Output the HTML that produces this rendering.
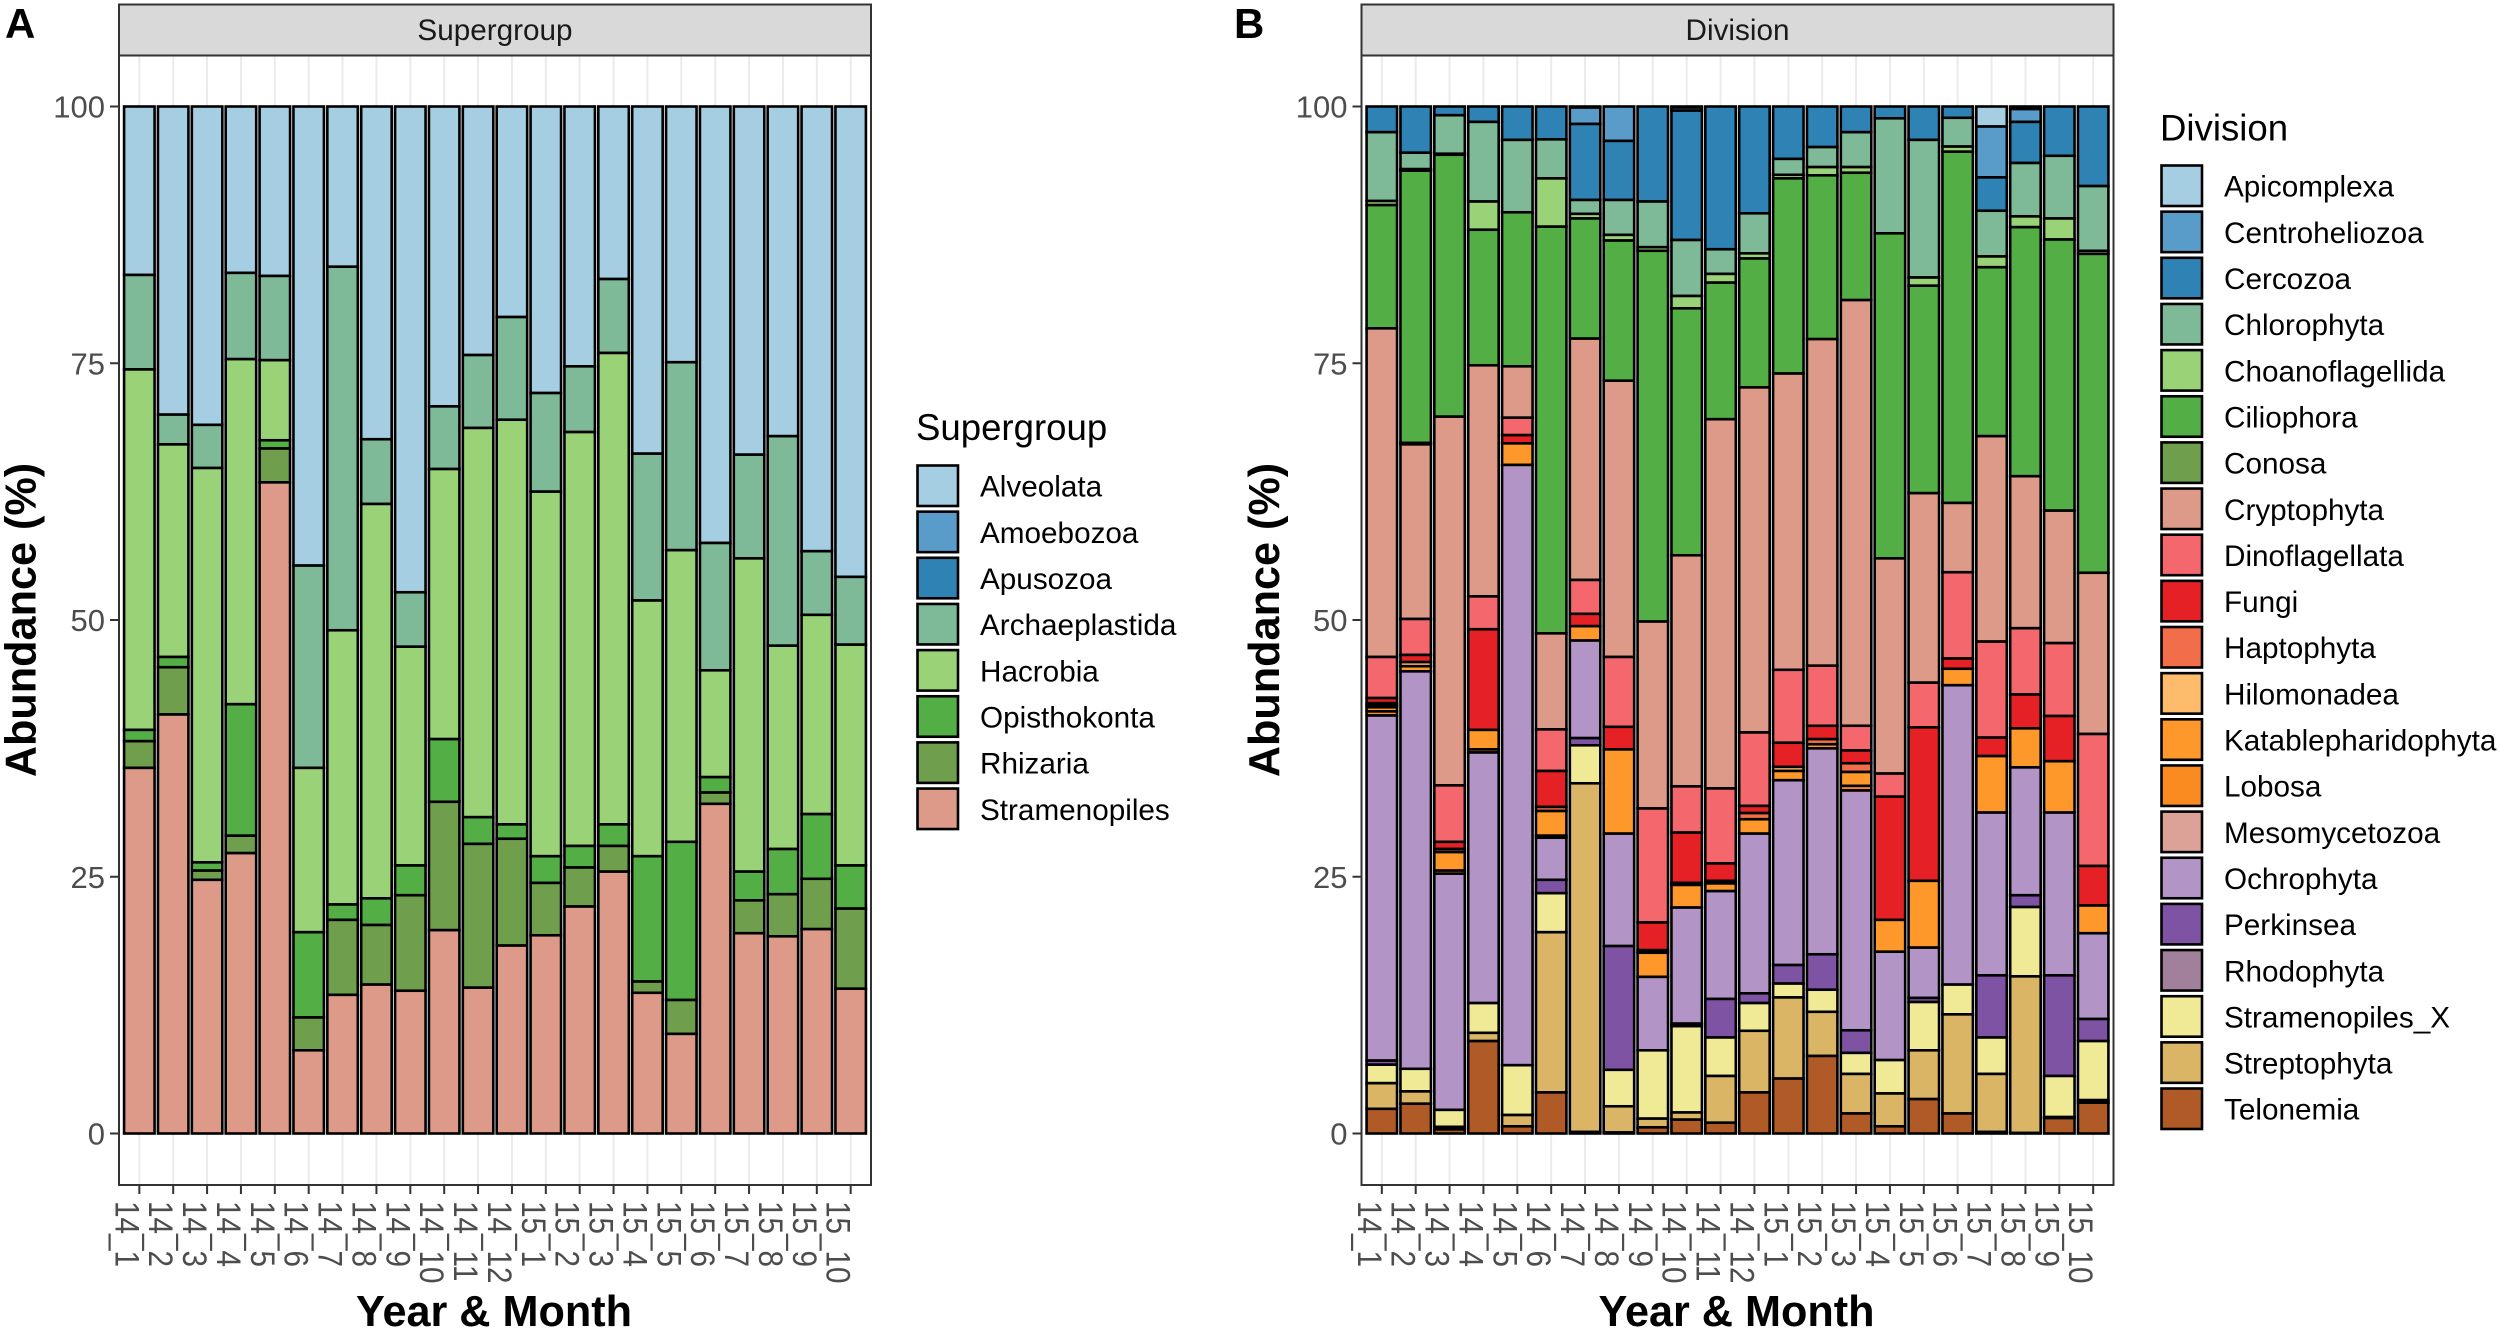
<!DOCTYPE html>
<html lang="en">
<head>
<meta charset="utf-8">
<title>Supergroup and Division abundance</title>
<style>
html,body{margin:0;padding:0;background:#fff;}
svg{display:block;}
text{font-family:"Liberation Sans",sans-serif;}
</style>
</head>
<body>
<svg id="chart" xmlns="http://www.w3.org/2000/svg" width="2500" height="1332" viewBox="0 0 2500 1332">
<rect x="0" y="0" width="2500" height="1332" fill="#ffffff"/>
<text x="5" y="38" font-size="42" font-weight="bold" fill="#000">A</text>
<text x="1234" y="38" font-size="42" font-weight="bold" fill="#000">B</text>
<g id="panelA"></g>
<g id="panelB"></g>
</svg>
<script>
const months = ["14_1","14_2","14_3","14_4","14_5","14_6","14_7","14_8","14_9","14_10","14_11","14_12","15_1","15_2","15_3","15_4","15_5","15_6","15_7","15_8","15_9","15_10"];
const yTicks = [0,25,50,75,100];

const supergroupNames = ["Alveolata","Amoebozoa","Apusozoa","Archaeplastida","Hacrobia","Opisthokonta","Rhizaria","Stramenopiles"];
const supergroupColors = ["#a6cee3","#5a9cc9","#2e82b4","#7fba98","#99d277","#52ae45","#6f9e4c","#dd9a88"];
const alveolata = [16.4,30,31,16.2,16.5,44.7,15.6,32.4,47.3,29.2,24.2,20.5,27.9,25.3,16.8,33.8,24.9,42.5,33.9,32.1,43.3,45.8];
const amoebozoa = [0,0,0,0,0,0,0,0,0,0,0,0,0,0,0,0,0,0,0,0,0,0];
const apusozoa = [0,0,0,0,0,0,0,0,0,0,0,0,0,0,0,0,0,0,0,0,0,0];
const archaeplastida = [9.2,2.9,4.2,8.4,8.2,19.7,35.4,6.3,5.3,6.1,7.1,10,9.6,6.4,7.2,14.3,18.3,12.4,10.1,20.4,6.2,6.6];
const hacrobia = [35.1,20.7,38.4,33.6,7.8,16,26.7,38.4,21.3,26.3,37.9,39.4,35.5,40.3,45.9,24.9,28.4,10.4,30.5,19.8,19.4,21.5];
const opisthokonta = [1.1,1,0.8,12.8,0.8,8.3,1.5,2.6,2.9,6.1,2.6,1.4,2.6,2.1,2.1,12.2,15.4,1.5,2.8,4.4,6.3,4.2];
const rhizaria = [2.6,4.6,0.9,1.7,3.3,3.2,7.3,5.8,9.3,12.5,14,10.4,5.1,3.8,2.5,1.1,3.3,1.1,3.2,4.1,4.9,7.8];
const stramenopiles = [35.6,40.8,24.7,27.3,63.4,8.1,13.5,14.5,13.9,19.8,14.2,18.3,19.3,22.1,25.5,13.7,9.7,32.1,19.5,19.2,19.9,14.1];

const divisionNames = ["Apicomplexa","Centroheliozoa","Cercozoa","Chlorophyta","Choanoflagellida","Ciliophora","Conosa","Cryptophyta","Dinoflagellata","Fungi","Haptophyta","Hilomonadea","Katablepharidophyta","Lobosa","Mesomycetozoa","Ochrophyta","Perkinsea","Rhodophyta","Stramenopiles_X","Streptophyta","Telonemia"];
const divisionColors = ["#a6cee3","#5a9cc9","#2e82b4","#7fba98","#99d277","#52ae45","#6f9e4c","#dd9a88","#f4686d","#e52125","#f26e4a","#fdbb6b","#ff982b","#f98b21","#dca197","#b294c7","#7f53a4","#a0809b","#f0ea96","#dbb566","#b05a28"];
const apicomplexa = [0,0,0,0,0,0,0.1,0,0,0.1,0,0,0,0,0,0,0,0,1.95,0.25,0,0];
const centroheliozoa = [0,0,0,0,0,0,1.6,3.35,0,0.3,0,0,0,0,0,0,0,0,4.95,1.25,0,0];
const cercozoa = [2.5,4.5,0.85,1.5,3.25,3.2,7.4,5.75,9.25,12.6,13.9,10.4,5.1,3.95,2.5,1.15,3.25,1.1,3.25,4,4.8,7.75];
const chlorophyta = [6.7,1.6,3.75,7.75,7.05,3.8,1.35,3.4,4.45,5.45,2.4,3.9,1.55,1.95,3.4,11.2,13.4,2.8,4.45,5.2,6.1,6.3];
const choanoflagellida = [0.4,0.15,0.1,2.75,0,4.7,0.45,0.55,0.35,1.2,0.85,0.5,0.35,0.8,0.55,0,0.8,0.5,1.05,1.05,2.05,0.3];
const ciliophora = [12,26.5,25.5,13.2,15,39.6,11.7,13.65,36.1,24.05,13.3,12.55,19,15.95,12.4,31.65,20.2,34.2,16.45,24.25,26.4,31.05];
const conosa = [0,0.15,0,0,0,0,0,0,0,0,0,0,0,0,0,0,0,0,0,0,0,0];
const cryptophyta = [32,17,35.9,22.5,5,9.35,23.5,26.9,18.2,22.5,35.95,33.6,28.85,31.8,41.45,20.95,18.45,6.75,20,14.8,12.9,15.7];
const dinoflagellata = [4,3.5,5.5,3.2,1.7,4.05,3.3,6.8,11.1,4.5,7.3,7.15,7.1,5.85,2.4,2.25,4.35,8.4,9.35,6.45,7.1,12.85];
const fungi = [0.5,0.7,0.7,9.8,0.8,3.5,1.2,2.2,2.7,4.9,1.7,0.7,2.35,1.3,1.25,12,14.95,1,1.8,3.3,4.4,3.85];
const haptophyta = [0.2,0,0.3,0,0,0.4,0,0,0,0,0,0.6,0,0.5,0.85,0,0,0,0,0,0,0];
const hilomonadea = [0.2,0.4,0,0,0,0,0,0,0.25,0.2,0.25,0,0.4,0,0,0,0,0,0,0,0,0];
const katablepharidophyta = [0.4,0.5,1.8,1.9,2.1,2.4,1.4,8.2,2.35,2.2,0.75,1.4,0.9,0.4,1.35,3.1,6.5,1.6,5.5,3.8,5,2.7];
const lobosa = [0.4,0,0.3,0.3,0,0.2,0,0,0,0,0,0,0,0,0.45,0,0,0,0,0,0,0];
const mesomycetozoa = [0,0,0,0,0,0,0,0,0,0,0,0,0,0,0,0,0,0,0,0,0,0];
const ochrophyta = [33.6,38.7,23,24.4,58.45,4.1,9.5,10.95,7.15,11.3,10.5,15.55,18,20.05,23.35,10.55,4.9,29.15,15.85,12.45,15.85,8.35];
const perkinsea = [0.4,0,0,0,0,1.3,0.7,12.05,0,0.25,3.75,0.95,1.8,3.45,2.2,0,0.4,0,6.05,1.15,9.8,2.15];
const rhodophyta = [0,0,0,0,0,0,0,0,0,0,0,0,0,0,0,0,0,0,0,0,0,0];
const stramenopilesX = [1.8,2.2,1.65,2.9,4.85,3.8,3.7,3.55,6.65,8.4,3.75,2.7,1.35,2.15,2.05,3.25,4.7,2.9,3.55,6.75,4,5.75];
const streptophyta = [2.5,1.2,0.25,0.8,1.1,15.6,33.95,2.55,0.85,0.7,4.55,6,7.9,4.3,3.85,3.2,4.75,9.65,5.65,15.25,0.1,0.25];
const telonemia = [2.4,2.9,0.4,9,0.7,4,0.15,0.1,0.6,1.35,1.05,4,5.35,7.55,1.95,0.7,3.35,1.95,0.15,0.05,1.5,3];

const supergroupSeries = [alveolata,amoebozoa,apusozoa,archaeplastida,hacrobia,opisthokonta,rhizaria,stramenopiles];
const divisionSeries = [apicomplexa,centroheliozoa,cercozoa,chlorophyta,choanoflagellida,ciliophora,conosa,cryptophyta,dinoflagellata,fungi,haptophyta,hilomonadea,katablepharidophyta,lobosa,mesomycetozoa,ochrophyta,perkinsea,rhodophyta,stramenopilesX,streptophyta,telonemia];

const SVGNS = "http://www.w3.org/2000/svg";
const Y0 = 1133.5, Y100 = 106.5, PANEL_W = 752;
const yScale = v => Y0 - v * (Y0 - Y100) / 100;

function mk(parent, tag, attrs, txt) {
  const el = document.createElementNS(SVGNS, tag);
  for (const k in attrs) el.setAttribute(k, attrs[k]);
  if (txt !== undefined) el.textContent = txt;
  parent.appendChild(el);
  return el;
}

function drawPanel(g, left, title, names, colors, series, titleX, legendX, legendTitleY, legendTop) {
  const right = left + PANEL_W;
  const step = PANEL_W / (months.length + 0.2);
  const xScale = i => left + (i + 0.6) * step;
  const barW = step * 0.9;
  const panelTop = 55.5, panelBottom = 1185;

  const strip = mk(g, 'rect', {x:left, y:4.5, width:PANEL_W, height:panelTop-4.5, fill:'#d9d9d9', stroke:'#333333', 'stroke-width':2});
  
  
  const stripLabel = mk(g, 'text', {x:left+PANEL_W/2, y:40, 'font-size':29.7, 'text-anchor':'middle', fill:'#1a1a1a'}, title);
  
  

  const bg = mk(g, 'rect', {x:left, y:panelTop, width:PANEL_W, height:panelBottom-panelTop, fill:'#ffffff'});
  
  

  months.forEach((m, i) => {
    const grid = mk(g, 'line', {x1:xScale(i), x2:xScale(i), y1:panelTop, y2:panelBottom, stroke:'#ebebeb', 'stroke-width':2});
    
    
  });

  months.forEach((m, i) => {
    let top = series.reduce((acc, s) => acc + s[i], 0);
    series.forEach((s, k) => {
      const v = s[i];
      if (v <= 0) return;
      const bottom = top - v;
      const seg = mk(g, 'rect', {
        x: xScale(i) - barW / 2,
        y: yScale(top),
        width: barW,
        height: yScale(bottom) - yScale(top),
        fill: colors[k],
        stroke: '#000000',
        'stroke-width': 2.6
      });
      
      
      top = bottom;
    });
  });

  const border = mk(g, 'rect', {x:left, y:panelTop, width:PANEL_W, height:panelBottom-panelTop, fill:'none', stroke:'#333333', 'stroke-width':2});
  
  

  yTicks.forEach(t => {
    const tick = mk(g, 'line', {x1:left-9, x2:left, y1:yScale(t), y2:yScale(t), stroke:'#333333', 'stroke-width':2});
    
    
    const lab = mk(g, 'text', {x:left-14, y:yScale(t)+11, 'font-size':31, 'text-anchor':'end', fill:'#4d4d4d'}, String(t));
    
    
  });

  months.forEach((m, i) => {
    const x = xScale(i);
    const tick = mk(g, 'line', {x1:x, x2:x, y1:panelBottom, y2:panelBottom+9, stroke:'#333333', 'stroke-width':2});
    
    
    const lx = x - 24, ly = 1201;
    const lab = mk(g, 'text', {x:0, y:0, 'font-size':29.7, fill:'#4d4d4d', transform:'translate('+lx+' '+ly+') rotate(90) scale(1 1.14)'}, m);
    
    
  });

  const xTitle = mk(g, 'text', {x:left+PANEL_W/2-1, y:1326, 'font-size':43.2, 'font-weight':'bold', 'text-anchor':'middle', fill:'#000'}, 'Year & Month');
  
  
  const yt = (Y0 + Y100) / 2;
  const yTitle = mk(g, 'text', {x:titleX, y:yt, 'font-size':43.2, 'font-weight':'bold', 'text-anchor':'middle', fill:'#000', transform:'rotate(-90 '+titleX+' '+yt+')'}, 'Abundance (%)');
  
  

  const legendTitle = mk(g, 'text', {x:legendX, y:legendTitleY, 'font-size':36.6, fill:'#000'}, title);
  
  
  names.forEach((n, i) => {
    const ky = legendTop + i * 46.15;
    const key = mk(g, 'rect', {x:legendX+1.5, y:ky+1.5, width:40.5, height:40.5, fill:colors[i], stroke:'#000000', 'stroke-width':2.6});
    
    
    const lab = mk(g, 'text', {x:legendX+64, y:ky+32.7, 'font-size':29.7, fill:'#000'}, n);
    
    
  });
}

drawPanel(document.getElementById('panelA'), 119, 'Supergroup', supergroupNames, supergroupColors, supergroupSeries, 35.5, 916, 440, 464);
drawPanel(document.getElementById('panelB'), 1361.5, 'Division', divisionNames, divisionColors, divisionSeries, 1279, 2160, 140.7, 164);
</script>
</body>
</html>
